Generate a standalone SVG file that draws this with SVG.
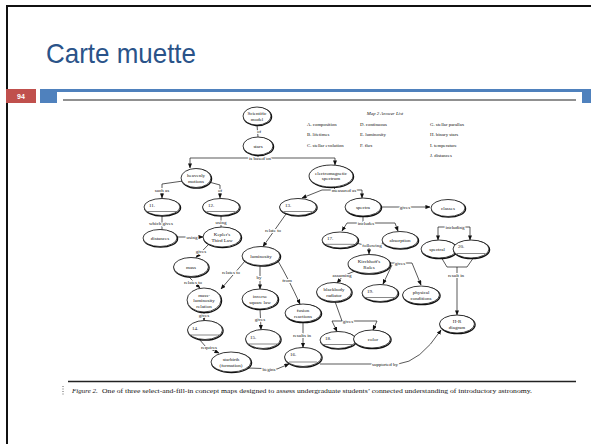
<svg xmlns="http://www.w3.org/2000/svg" width="591" height="444" viewBox="0 0 591 444">
  <style>
    .frame { fill: none; stroke: #111; stroke-width: 2; }
    .title { font-family: "Liberation Sans Narrow", "Liberation Sans", Arial, sans-serif; font-size: 28px; fill: #2a5389; }
    .pg { font-family: "Liberation Sans", Arial, sans-serif; font-size: 7px; font-weight: bold; fill: #fff; text-anchor: middle; }
    .sh { fill: none; stroke: #111; stroke-width: 1.3; }
    .ov { fill: #fff; stroke: #111; stroke-width: 0.8; }
    .t { font-family: "Liberation Serif", "Times New Roman", serif; font-size: 5px; fill: #111; text-anchor: middle; }
    .num { font-family: "Liberation Serif", "Times New Roman", serif; font-size: 5px; fill: #111; }
    .blank { stroke: #111; stroke-width: 0.5; }
    .lb { font-family: "Liberation Serif", "Times New Roman", serif; font-size: 5px; fill: #111; text-anchor: middle; stroke: #fff; stroke-width: 2; paint-order: stroke; }
    .c { fill: none; stroke: #111; stroke-width: 0.7; }
    .ans { font-family: "Liberation Serif", "Times New Roman", serif; font-size: 4.8px; fill: #111; }
    .cap { font-family: "Liberation Serif", "Times New Roman", serif; font-size: 7px; fill: #111; }
  </style>
  <defs>
    <marker id="ah" viewBox="0 0 6 5" refX="5.5" refY="2.5" markerWidth="5" markerHeight="4.2" markerUnits="userSpaceOnUse" orient="auto">
      <path d="M0,0 L6,2.5 L0,5 z" fill="#111"/>
    </marker>
  </defs>

  <!-- slide chrome -->
  <rect width="591" height="444" fill="#fff"/>
  <path class="frame" d="M7,444 V6 H591"/>
  <text class="title" x="46" y="63" textLength="150" lengthAdjust="spacingAndGlyphs">Carte muette</text>
  <rect x="6" y="89" width="30" height="14" fill="#c0504d"/>
  <text class="pg" x="21" y="99">94</text>
  <rect x="40" y="89" width="551" height="14" fill="#4f81bd"/>
  <rect x="57" y="92" width="525" height="352" fill="#fff"/>
  <line x1="63" y1="100" x2="576" y2="100" stroke="#222" stroke-width="1.2"/>
  <line x1="68" y1="381.5" x2="576" y2="381.5" stroke="#222" stroke-width="1.4"/>
  <line x1="63" y1="386" x2="63" y2="396" stroke="#333" stroke-width="0.8" stroke-dasharray="1 1.5"/>

  <!-- answer list -->
  <g id="answer-list">
    <text class="ans" x="385" y="115" text-anchor="middle" font-style="italic">Map 2 Answer List</text>
    <text class="ans" x="307" y="126">A. composition</text>
    <text class="ans" x="307" y="136">B. lifetimes</text>
    <text class="ans" x="307" y="147">C. stellar evolution</text>
    <text class="ans" x="360" y="126">D. continuous</text>
    <text class="ans" x="360" y="136">E. luminosity</text>
    <text class="ans" x="360" y="147">F. flux</text>
    <text class="ans" x="430" y="126">G. stellar parallax</text>
    <text class="ans" x="430" y="136">H. binary stars</text>
    <text class="ans" x="430" y="147">I. temperature</text>
    <text class="ans" x="430" y="157">J. distances</text>
  </g>

  <!-- connectors -->
  <g id="connectors">
    <path class="c" d="M257,125 L258,137"/>
    <path class="c" d="M258,155 L258,158 M190,158 L335,158"/>
    <path class="c" marker-end="url(#ah)" d="M190,158 L190,168"/>
    <path class="c" marker-end="url(#ah)" d="M335,158 L335,165"/>
    <path class="c" marker-end="url(#ah)" d="M183,181 L162,184 L162,198"/>
    <path class="c" marker-end="url(#ah)" d="M209,182 L220,185 L220,198"/>
    <path class="c" d="M333,187 L336,190 M322,190 L362,190"/>
    <path class="c" marker-end="url(#ah)" d="M322,190 L302,198"/>
    <path class="c" marker-end="url(#ah)" d="M362,190 L362,198"/>
    <path class="c" marker-end="url(#ah)" d="M381,207 L430,207" stroke-width="1.8"/>
    <path class="c" d="M363,216 L363,223 M347,223 L395,223"/>
    <path class="c" marker-end="url(#ah)" d="M347,223 L342,231"/>
    <path class="c" marker-end="url(#ah)" d="M395,223 L398,231"/>
    <path class="c" d="M356,243 L364,245 M384,243 L380,245"/>
    <path class="c" marker-end="url(#ah)" d="M369,247 L369,254"/>
    <path class="c" marker-end="url(#ah)" d="M355,271 L343,276 L337,283"/>
    <path class="c" d="M389,263 L396,263 M404,263 L412,263"/>
    <path class="c" marker-end="url(#ah)" d="M412,263 L421,285"/>
    <path class="c" marker-end="url(#ah)" d="M392,265 L383,284"/>
    <path class="c" d="M438,227 L470,227"/>
    <path class="c" marker-end="url(#ah)" d="M438,227 L438,240"/>
    <path class="c" marker-end="url(#ah)" d="M470,227 L470,240"/>
    <path class="c" d="M441,257 L447,267 L467,267 L474,257"/>
    <path class="c" marker-end="url(#ah)" d="M457,267 L457,315"/>
    <path class="c" d="M162,215.5 L162,229.5"/>
    <path class="c" marker-end="url(#ah)" d="M177,237 L203,237"/>
    <path class="c" d="M221,215.5 L221,227"/>
    <path class="c" marker-end="url(#ah)" d="M208,245 L196,257.5"/>
    <path class="c" marker-end="url(#ah)" d="M188,276 L200,288"/>
    <path class="c" marker-end="url(#ah)" d="M286,214 L263,246.5"/>
    <path class="c" marker-end="url(#ah)" d="M245,261 L221,289"/>
    <path class="c" marker-end="url(#ah)" d="M260,265.5 L260,289"/>
    <path class="c" marker-end="url(#ah)" d="M278,261 Q288,278 300,304"/>
    <path class="c" marker-end="url(#ah)" d="M204,312 L204,320.5"/>
    <path class="c" marker-end="url(#ah)" d="M260,309 L261,329.5"/>
    <path class="c" marker-end="url(#ah)" d="M303,322 L303,347.5"/>
    <path class="c" marker-end="url(#ah)" d="M199,339 L206,347 L219,353"/>
    <path class="c" marker-end="url(#ah)" d="M248,368 L277,369 L289,364"/>
    <path class="c" marker-end="url(#ah)" d="M320,364 L398,364 Q420,362 441,330"/>
    <path class="c" d="M335,301.5 L342,321 M332,321 L377,321"/>
    <path class="c" marker-end="url(#ah)" d="M332,321 L337,331.5"/>
    <path class="c" marker-end="url(#ah)" d="M377,321 L373,330"/>

    <text class="lb" x="259" y="132.5">of</text>
    <text class="lb" x="260" y="159.5">is based on</text>
    <text class="lb" x="162" y="191.5">such as</text>
    <text class="lb" x="220" y="191.5">of</text>
    <text class="lb" x="344" y="191.5">measured as</text>
    <text class="lb" x="405" y="208.5">gives</text>
    <text class="lb" x="366" y="224.5">includes</text>
    <text class="lb" x="372" y="246.5">following</text>
    <text class="lb" x="342" y="276.5">assuming</text>
    <text class="lb" x="400" y="264.5">gives</text>
    <text class="lb" x="455" y="228.5">including</text>
    <text class="lb" x="456" y="276.5">result in</text>
    <text class="lb" x="161" y="224.5">which gives</text>
    <text class="lb" x="192" y="238.5">using</text>
    <text class="lb" x="221" y="223.5">using</text>
    <text class="lb" x="201" y="252.5">gives</text>
    <text class="lb" x="193" y="283.5">relates to</text>
    <text class="lb" x="273" y="231.5">relate to</text>
    <text class="lb" x="231" y="273.5">relates to</text>
    <text class="lb" x="259" y="278.5">by</text>
    <text class="lb" x="287" y="281.5">from</text>
    <text class="lb" x="204" y="316.5">gives</text>
    <text class="lb" x="260" y="320.5">gives</text>
    <text class="lb" x="302" y="336.5">results in</text>
    <text class="lb" x="209" y="348.5">requires</text>
    <text class="lb" x="269" y="370.5">begins</text>
    <text class="lb" x="385" y="365.5">supported by</text>
    <text class="lb" x="348" y="322.5">gives</text>
  </g>

  <!-- concept nodes -->
  <g id="sci-model"><ellipse class="sh" cx="257.6" cy="116.7" rx="14" ry="9"/><ellipse class="ov" cx="257" cy="116" rx="14" ry="9"/><text class="t" x="257" y="115">Scientific</text><text class="t" x="257" y="120.5">model</text></g>
  <g id="stars"><ellipse class="sh" cx="258.6" cy="146.7" rx="15" ry="9"/><ellipse class="ov" cx="258" cy="146" rx="15" ry="9"/><text class="t" x="258" y="147.7">stars</text></g>
  <g id="heavenly"><ellipse class="sh" cx="196.6" cy="178.7" rx="15" ry="9.5"/><ellipse class="ov" cx="196" cy="178" rx="15" ry="9.5"/><text class="t" x="196" y="177">heavenly</text><text class="t" x="196" y="182.5">motions</text></g>
  <g id="em-spectrum"><ellipse class="sh" cx="331.6" cy="176.7" rx="22" ry="11"/><ellipse class="ov" cx="331" cy="176" rx="22" ry="11"/><text class="t" x="331" y="174.5">electromagnetic</text><text class="t" x="331" y="180">spectrum</text></g>
  <g id="n11"><ellipse class="sh" cx="162.6" cy="207.7" rx="18" ry="8.5"/><ellipse class="ov" cx="162" cy="207" rx="18" ry="8.5"/><text class="num" x="149" y="206.5">11.</text><line class="blank" x1="148" y1="211.5" x2="176" y2="211.5"/></g>
  <g id="n12"><ellipse class="sh" cx="221.6" cy="207.7" rx="18.5" ry="8.5"/><ellipse class="ov" cx="221" cy="207" rx="18.5" ry="8.5"/><text class="num" x="208" y="206.5">12.</text><line class="blank" x1="207" y1="211.5" x2="235" y2="211.5"/></g>
  <g id="n13"><ellipse class="sh" cx="298.6" cy="207.7" rx="18.5" ry="8.5"/><ellipse class="ov" cx="298" cy="207" rx="18.5" ry="8.5"/><text class="num" x="285" y="206.5">13.</text><line class="blank" x1="284" y1="211.5" x2="312" y2="211.5"/></g>
  <g id="spectra"><ellipse class="sh" cx="363.6" cy="207.7" rx="18" ry="9"/><ellipse class="ov" cx="363" cy="207" rx="18" ry="9"/><text class="t" x="363" y="208.7">spectra</text></g>
  <g id="classes"><ellipse class="sh" cx="448.6" cy="208.7" rx="17" ry="8.5"/><ellipse class="ov" cx="448" cy="208" rx="17" ry="8.5"/><text class="t" x="448" y="209.7">classes</text></g>
  <g id="distances"><ellipse class="sh" cx="160.6" cy="238.7" rx="17" ry="8.5"/><ellipse class="ov" cx="160" cy="238" rx="17" ry="8.5"/><text class="t" x="160" y="239.7">distances</text></g>
  <g id="kepler"><ellipse class="sh" cx="222.6" cy="237.7" rx="19" ry="10"/><ellipse class="ov" cx="222" cy="237" rx="19" ry="10"/><text class="t" x="222" y="236">Kepler's</text><text class="t" x="222" y="241.5">Third Law</text></g>
  <g id="n17"><ellipse class="sh" cx="340.6" cy="240.7" rx="18" ry="8"/><ellipse class="ov" cx="340" cy="240" rx="18" ry="8"/><text class="num" x="327" y="239.5">17.</text><line class="blank" x1="326" y1="244.3" x2="354" y2="244.3"/></g>
  <g id="absorption"><ellipse class="sh" cx="400.6" cy="240.7" rx="18" ry="8.5"/><ellipse class="ov" cx="400" cy="240" rx="18" ry="8.5"/><text class="t" x="400" y="241.7">absorption</text></g>
  <g id="spectral"><ellipse class="sh" cx="439.6" cy="249.7" rx="18" ry="9"/><ellipse class="ov" cx="439" cy="249" rx="18" ry="9"/><text class="t" x="437" y="250.7">spectral</text></g>
  <g id="n20"><ellipse class="sh" cx="471.6" cy="249.7" rx="18" ry="9"/><ellipse class="ov" cx="471" cy="249" rx="18" ry="9"/><text class="num" x="458" y="248">20.</text><line class="blank" x1="457" y1="253.5" x2="485" y2="253.5"/></g>
  <g id="luminosity"><ellipse class="sh" cx="261.6" cy="256.7" rx="19" ry="9.5"/><ellipse class="ov" cx="261" cy="256" rx="19" ry="9.5"/><text class="t" x="261" y="257.7">luminosity</text></g>
  <g id="kirchhoff"><ellipse class="sh" cx="369.6" cy="264.7" rx="21" ry="9.5"/><ellipse class="ov" cx="369" cy="264" rx="21" ry="9.5"/><text class="t" x="369" y="263">Kirchhoff's</text><text class="t" x="369" y="268.5">Rules</text></g>
  <g id="mass"><ellipse class="sh" cx="191.6" cy="267.7" rx="17.5" ry="9.5"/><ellipse class="ov" cx="191" cy="267" rx="17.5" ry="9.5"/><text class="t" x="191" y="268.7">mass</text></g>
  <g id="blackbody"><ellipse class="sh" cx="334.6" cy="292.7" rx="17.5" ry="9.5"/><ellipse class="ov" cx="334" cy="292" rx="17.5" ry="9.5"/><text class="t" x="334" y="291">blackbody</text><text class="t" x="334" y="296.5">radiator</text></g>
  <g id="n19"><ellipse class="sh" cx="380.6" cy="293.7" rx="18" ry="8.5"/><ellipse class="ov" cx="380" cy="293" rx="18" ry="8.5"/><text class="num" x="367" y="292.5">19.</text><line class="blank" x1="366" y1="297.5" x2="394" y2="297.5"/></g>
  <g id="physical"><ellipse class="sh" cx="421.6" cy="295.7" rx="18.5" ry="9"/><ellipse class="ov" cx="421" cy="295" rx="18.5" ry="9"/><text class="t" x="421" y="294">physical</text><text class="t" x="421" y="299.5">conditions</text></g>
  <g id="mass-luminosity"><ellipse class="sh" cx="204.6" cy="300.7" rx="17" ry="12"/><ellipse class="ov" cx="204" cy="300" rx="17" ry="12"/><text class="t" x="204" y="296.5">mass-</text><text class="t" x="204" y="302">luminosity</text><text class="t" x="204" y="307.5">relation</text></g>
  <g id="inverse-square"><ellipse class="sh" cx="260.6" cy="299.7" rx="18" ry="10"/><ellipse class="ov" cx="260" cy="299" rx="18" ry="10"/><text class="t" x="260" y="298">inverse</text><text class="t" x="260" y="303.5">square law</text></g>
  <g id="fusion"><ellipse class="sh" cx="303.6" cy="313.7" rx="18" ry="9"/><ellipse class="ov" cx="303" cy="313" rx="18" ry="9"/><text class="t" x="303" y="312">fusion</text><text class="t" x="303" y="317.5">reactions</text></g>
  <g id="hr-diagram"><ellipse class="sh" cx="457.6" cy="324.7" rx="17.5" ry="9"/><ellipse class="ov" cx="457" cy="324" rx="17.5" ry="9"/><text class="t" x="457" y="323">H-R</text><text class="t" x="457" y="328.5">diagram</text></g>
  <g id="n14"><ellipse class="sh" cx="205.6" cy="330.7" rx="17.5" ry="9.5"/><ellipse class="ov" cx="205" cy="330" rx="17.5" ry="9.5"/><text class="num" x="192" y="329.5">14.</text><line class="blank" x1="191" y1="335" x2="219" y2="335"/></g>
  <g id="n15"><ellipse class="sh" cx="263.6" cy="339.7" rx="17.5" ry="9.5"/><ellipse class="ov" cx="263" cy="339" rx="17.5" ry="9.5"/><text class="num" x="250" y="338.5">15.</text><line class="blank" x1="249" y1="344" x2="277" y2="344"/></g>
  <g id="n18"><ellipse class="sh" cx="338.6" cy="340.7" rx="18" ry="8.5"/><ellipse class="ov" cx="338" cy="340" rx="18" ry="8.5"/><text class="num" x="325" y="339.5">18.</text><line class="blank" x1="324" y1="344.5" x2="352" y2="344.5"/></g>
  <g id="color"><ellipse class="sh" cx="372.6" cy="339.7" rx="18.5" ry="9"/><ellipse class="ov" cx="372" cy="339" rx="18.5" ry="9"/><text class="t" x="373" y="340.7">color</text></g>
  <g id="n16"><ellipse class="sh" cx="303.6" cy="357.7" rx="18.5" ry="9.5"/><ellipse class="ov" cx="303" cy="357" rx="18.5" ry="9.5"/><text class="num" x="290" y="356">16.</text><line class="blank" x1="289" y1="362" x2="317" y2="362"/></g>
  <g id="starbirth"><ellipse class="sh" cx="231.6" cy="362.7" rx="20" ry="10"/><ellipse class="ov" cx="231" cy="362" rx="20" ry="10"/><text class="t" x="231" y="361">starbirth</text><text class="t" x="231" y="366.5">(formation)</text></g>

  <!-- caption -->
  <text class="cap" x="72" y="393"><tspan font-style="italic">Figure 2.</tspan></text>
  <text class="cap" x="102" y="393" textLength="430" lengthAdjust="spacingAndGlyphs">One of three select-and-fill-in concept maps designed to assess undergraduate students’ connected understanding of introductory astronomy.</text>
</svg>
